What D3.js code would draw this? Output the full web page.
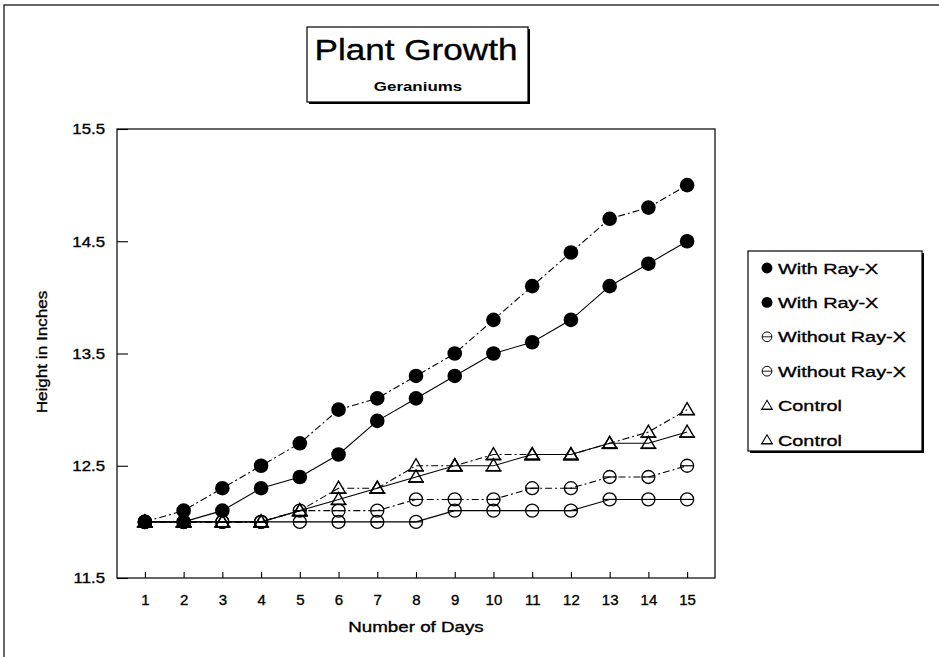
<!DOCTYPE html>
<html>
<head>
<meta charset="utf-8">
<script src="https://cdn.jsdelivr.net/npm/d3@7"></script>
<style>
  html, body { margin: 0; padding: 0; background: #fff; }
  svg { display: block; }
  text { font-family: Arial, "Liberation Sans", Helvetica, sans-serif; fill: #000; stroke: #000; stroke-width: 0.35px; }
</style>
</head>
<body>
<svg id="chart" width="939" height="657"></svg>
<script>
// ---- data ----
const days = [1, 2, 3, 4, 5, 6, 7, 8, 9, 10, 11, 12, 13, 14, 15];
const withRayX1    = [12.0, 12.1, 12.3, 12.5, 12.7, 13.0, 13.1, 13.3, 13.5, 13.8, 14.1, 14.4, 14.7, 14.8, 15.0];
const withRayX2    = [12.0, 12.0, 12.1, 12.3, 12.4, 12.6, 12.9, 13.1, 13.3, 13.5, 13.6, 13.8, 14.1, 14.3, 14.5];
const withoutRayX1 = [12.0, 12.0, 12.0, 12.0, 12.1, 12.1, 12.1, 12.2, 12.2, 12.2, 12.3, 12.3, 12.4, 12.4, 12.5];
const withoutRayX2 = [12.0, 12.0, 12.0, 12.0, 12.0, 12.0, 12.0, 12.0, 12.1, 12.1, 12.1, 12.1, 12.2, 12.2, 12.2];
const control1     = [12.0, 12.0, 12.0, 12.0, 12.1, 12.3, 12.3, 12.5, 12.5, 12.6, 12.6, 12.6, 12.7, 12.8, 13.0];
const control2     = [12.0, 12.0, 12.0, 12.0, 12.1, 12.2, 12.3, 12.4, 12.5, 12.5, 12.6, 12.6, 12.7, 12.7, 12.8];
const seriesNames  = ["With Ray-X", "With Ray-X", "Without Ray-X", "Without Ray-X", "Control", "Control"];
const seriesMarks  = ["dot", "dot", "ring", "ring", "tri", "tri"];
const yTicks = [11.5, 12.5, 13.5, 14.5, 15.5];
const titleText = "Plant Growth";
const subtitleText = "Geraniums";
const xTitle = "Number of Days";
const yTitle = "Height in Inches";

const seriesValues = [withRayX1, withRayX2, withoutRayX1, withoutRayX2, control1, control2];
const series = seriesNames.map((name, i) => ({
  name, mark: seriesMarks[i],
  points: days.map((d, j) => ({ day: d, v: seriesValues[i][j] }))
}));

// ---- layout ----
const svg = d3.select("#chart");
function stretch(sel, f) {
  sel.each(function () {
    const w = this.getComputedTextLength();
    d3.select(this).attr("textLength", w * f).attr("lengthAdjust", "spacingAndGlyphs");
  });
}

const plot = { left: 117, right: 715, top: 129, bottom: 578 };
const x = d3.scaleLinear().domain([0.28, 15.72]).range([plot.left, plot.right]);
const y = d3.scaleLinear().domain([11.5, 15.5]).range([plot.bottom, plot.top]);

// outer frame (top & left visible)
svg.append("rect").attr("x", 4).attr("y", 5).attr("width", 960).attr("height", 700)
  .attr("fill", "none").attr("stroke", "#000").attr("stroke-width", 1.2);

// title box
const tb = { x: 307, y: 27, w: 221, h: 75 };
svg.append("rect").attr("x", tb.x + 2).attr("y", tb.y + 2).attr("width", tb.w).attr("height", tb.h).attr("fill", "#000");
svg.append("rect").attr("x", tb.x).attr("y", tb.y).attr("width", tb.w).attr("height", tb.h)
  .attr("fill", "#fff").attr("stroke", "#000").attr("stroke-width", 1.2);
svg.append("text").attr("x", 416).attr("y", 60).attr("text-anchor", "middle")
  .attr("font-size", 30).text(titleText).call(stretch, 1.17);
svg.append("text").attr("x", 418).attr("y", 91).attr("text-anchor", "middle")
  .attr("font-size", 13).attr("font-weight", "bold").style("stroke-width", "0px").text(subtitleText).call(stretch, 1.3);

// plot frame
svg.append("rect").attr("x", plot.left).attr("y", plot.top)
  .attr("width", plot.right - plot.left).attr("height", plot.bottom - plot.top)
  .attr("fill", "none").attr("stroke", "#000").attr("stroke-width", 1.2);

// axes
const xAxis = svg.append("g").attr("transform", `translate(0,${plot.bottom})`)
  .call(d3.axisBottom(x).tickValues(days).tickSizeInner(-6).tickSizeOuter(0).tickPadding(16).tickFormat(d3.format("d")));
xAxis.select(".domain").remove();
xAxis.selectAll("text").attr("font-size", 15).attr("font-family", null).attr("fill", null).call(stretch, 1.0);

const yAxis = svg.append("g").attr("transform", `translate(${plot.left},0)`)
  .call(d3.axisLeft(y).tickValues(yTicks).tickSizeInner(-11).tickSizeOuter(0).tickPadding(12).tickFormat(d3.format(".1f")));
yAxis.select(".domain").remove();
yAxis.selectAll("text").attr("font-size", 15).attr("font-family", null).attr("fill", null).call(stretch, 1.12);
svg.selectAll(".tick line").attr("stroke", "#000").attr("stroke-width", 1.1);

// axis titles
svg.append("text").attr("x", 416).attr("y", 632).attr("text-anchor", "middle")
  .attr("font-size", 15).text(xTitle).call(stretch, 1.25);
svg.append("text").attr("transform", "translate(47,352) rotate(-90)").attr("text-anchor", "middle")
  .attr("font-size", 14.5).text(yTitle).call(stretch, 1.18);

// lines
const dashes = ["7,3,2,3", "none", "7,3,2,3", "none", "7,3,2,3", "none"];
const line = d3.line().x(d => x(d.day)).y(d => y(d.v));
svg.append("g").selectAll("path").data(series).join("path")
  .attr("d", d => line(d.points))
  .attr("fill", "none").attr("stroke", "#000").attr("stroke-width", 1.1)
  .attr("stroke-dasharray", (d, i) => dashes[i]);

// markers
function drawMarker(g, kind) {
  if (kind === "dot") {
    g.append("circle").attr("r", 7.3).attr("fill", "#000");
  } else if (kind === "ring") {
    g.append("circle").attr("r", 6.5).attr("fill", "none").attr("stroke", "#000").attr("stroke-width", 1.3);
    g.append("path").attr("d", "M-6.5,0H6.5").attr("stroke", "#000").attr("stroke-width", 1.2);
  } else {
    g.append("path").attr("d", "M-7,5L0,-7L7,5Z").attr("fill", "none").attr("stroke", "#000").attr("stroke-width", 1.4);
    g.append("path").attr("d", "M-8,5H8").attr("stroke", "#000").attr("stroke-width", 1.6);
  }
}
series.forEach(s => {
  const gs = svg.append("g");
  s.points.forEach(p => {
    const g = gs.append("g").attr("transform", `translate(${x(p.day)},${y(p.v)})`);
    drawMarker(g, s.mark);
  });
});

// legend
const lg = { x: 748, y: 251, w: 174, h: 200 };
svg.append("rect").attr("x", lg.x + 2).attr("y", lg.y + 2).attr("width", lg.w).attr("height", lg.h).attr("fill", "#000");
svg.append("rect").attr("x", lg.x).attr("y", lg.y).attr("width", lg.w).attr("height", lg.h)
  .attr("fill", "#fff").attr("stroke", "#000").attr("stroke-width", 1.2);
const legendY = d3.scalePoint().domain(d3.range(series.length)).range([268, 440]);
series.forEach((s, i) => {
  const gy = legendY(i);
  const mg = svg.append("g").attr("transform", `translate(767,${gy}) scale(0.75)`);
  drawMarker(mg, s.mark);
  svg.append("text").attr("x", 778).attr("y", gy + 5.5).attr("font-size", 15.5).text(s.name).call(stretch, 1.28);
});
</script>
</body>
</html>
